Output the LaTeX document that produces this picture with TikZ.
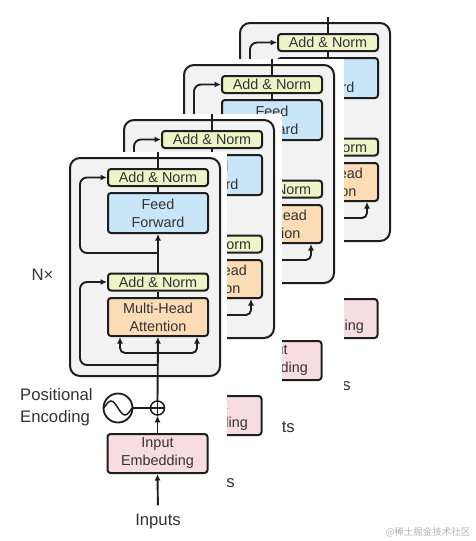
\documentclass[tikz,border=0pt]{standalone}
\usepackage{fontspec}
\setmainfont{Liberation Sans}
\newfontfamily\cjkf{Noto Sans CJK SC}
\usetikzlibrary{arrows.meta,calc}
\definecolor{linec}{HTML}{1E1E1E}
\definecolor{txtc}{HTML}{333333}
\definecolor{boxc}{HTML}{F2F2F2}
\definecolor{anc}{HTML}{EFF3C8}
\definecolor{ffc}{HTML}{C8E6F7}
\definecolor{mhac}{HTML}{FBDCB6}
\definecolor{embc}{HTML}{F7DDE1}
\tikzset{
 blk/.style={draw=linec, line width=2pt, rounded corners=3pt, minimum width=100pt, inner sep=0pt, text=txtc, font=\fontsize{14.4}{18}\selectfont, align=center},
 anbox/.style={blk, fill=anc, minimum height=17pt},
 ffbox/.style={blk, fill=ffc, minimum height=40pt},
 mhabox/.style={blk, fill=mhac, minimum height=38pt},
 embbox/.style={blk, fill=embc, minimum height=39pt},
 encbox/.style={draw=linec, fill=boxc, line width=2pt, rounded corners=10pt, minimum width=150pt, minimum height=218pt, inner sep=0pt},
 conn/.style={draw=linec, line width=1.9pt},
 arr/.style={conn, -{Latex[length=6.5pt,width=6pt]}},
 lbl/.style={text=txtc, font=\fontsize{16.7}{22}\selectfont, inner sep=0pt, align=left},
 ring/.style={draw=linec, circle, inner sep=0pt},
}
\newcommand\encoderblock[4]{%
\begin{scope}[shift={(#1,#2)}]
 \fill[white] (0,152) rectangle (#4,541);
 \node[encbox] (box#3) at (145,267) {};
 \node[anbox] (ant#3) at (158,177.5) {Add \& Norm};
 \node[ffbox] (ff#3) at (158,213) {Feed\\Forward};
 \node[anbox] (anb#3) at (158,282) {Add \& Norm};
 \node[mhabox] (mha#3) at (158,317) {Multi-Head\\Attention};
 \node[embbox] (emb#3) at (157.5,453.5) {Input\\Embedding};
 \node[ring, line width=1.5pt, minimum size=14pt] (plus#3) at (157.5,408) {};
 \node[ring, line width=1.8pt, minimum size=29pt] (pe#3) at (118,408) {};
 \node[lbl] (inp#3) at (158,521) {Inputs};
 \node[lbl, anchor=west] (pel#3) at (20,407) {Positional\\Encoding};
 \node[lbl] (nx#3) at (42.5,275) {N×};
 \coordinate (top#3) at (158,152);
 \coordinate (ra#3) at (158,365);
 \coordinate (fk#3) at (158,353);
 \coordinate (rb#3) at (158,253);
 \draw[arr, shorten <=8pt] (inp#3.north) -- (emb#3.south);
 \draw[arr] (emb#3.north) -- (plus#3.south);
 \draw[conn, line width=1.5pt] (plus#3.north) -- (plus#3.south);
 \draw[conn, line width=1.5pt] (plus#3.west) -- (plus#3.east);
 \draw[conn] (pe#3.east) -- (plus#3.west);
 \draw[conn, line width=1.5pt] (104,408) sin (111,401) cos (118,408) sin (125,415) cos (132,408);
 \draw[arr] (plus#3.north) -- (mha#3.south);
 \draw[arr, rounded corners=7pt] (ra#3) -- (80,365) -- (80,282) -- (anb#3.west);
 \draw[arr, rounded corners=5pt] (fk#3) -| ($(mha#3.south)+(-38,0)$);
 \draw[arr, rounded corners=5pt] (fk#3) -| ($(mha#3.south)+(39,0)$);
 \draw[conn] (mha#3.north) -- (anb#3.south);
 \draw[arr] (anb#3.north) -- (ff#3.south);
 \draw[arr, rounded corners=7pt] (rb#3) -- (80,253) -- (80,177.5) -- (ant#3.west);
 \draw[conn] (ff#3.north) -- (ant#3.south);
 \draw[conn] (ant#3.north) -- (top#3);
\end{scope}}
\begin{document}
\begin{tikzpicture}[x=1pt,y=-1pt]
 \useasboundingbox (0,0) rectangle (476,541);
 \encoderblock{170}{-135}{d}{229}
 \encoderblock{114}{-93}{c}{229.5}
 \encoderblock{54}{-38}{b}{228}
 \encoderblock{0}{0}{a}{226.5}
 \node[text=gray!60, font=\cjkf\fontsize{9.5}{10}\selectfont, inner sep=0pt] (wm) at (428,532) {@稀土掘金技术社区};
\end{tikzpicture}
\end{document}
